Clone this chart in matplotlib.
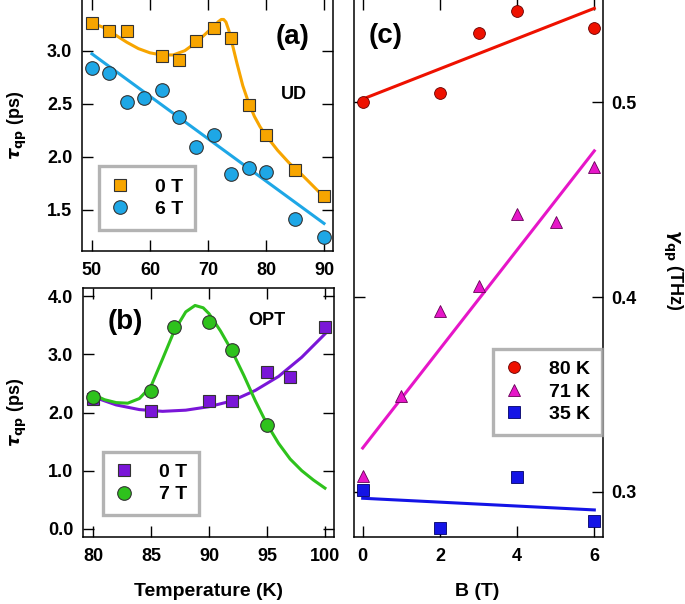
import matplotlib
matplotlib.use("Agg")
import matplotlib.pyplot as plt

plt.rcParams['font.family'] = ['Liberation Sans', 'DejaVu Sans']
plt.rcParams['font.weight'] = 'bold'
plt.rcParams['mathtext.fontset'] = 'dejavusans'

# panel (a) - UD
temp_a = [50, 53, 56, 62, 65, 68, 71, 74, 77, 80, 85, 90]
tau_0T_a = [3.26, 3.19, 3.19, 2.95, 2.915, 3.09, 3.21, 3.12, 2.49, 2.20, 1.87, 1.63]
temp_a6 = [50, 53, 56, 59, 62, 65, 68, 71, 74, 77, 80, 85, 90]
tau_6T_a = [2.84, 2.79, 2.52, 2.55, 2.63, 2.375, 2.09, 2.20, 1.84, 1.89, 1.86, 1.41, 1.24]
# fit curves
fit0_x_a = [50, 52, 54, 56, 58, 60, 62, 64, 66, 68, 70, 71, 71.8, 72.3, 72.7, 73.1, 73.6, 74.2, 75, 76, 77, 78, 79, 80, 82, 84, 86, 88, 90]
fit0_y_a = [3.26, 3.22, 3.15, 3.08, 3.02, 2.98, 2.96, 2.96, 3.00, 3.08, 3.18, 3.23, 3.275, 3.295, 3.295, 3.27, 3.19, 3.06, 2.88, 2.67, 2.51, 2.38, 2.28, 2.20, 2.06, 1.94, 1.84, 1.73, 1.62]
fit6_x_a = [50, 90]
fit6_y_a = [2.97, 1.37]

# panel (b) - OPT
temp_b0 = [80, 85, 90, 92, 95, 97, 100]
tau_0T_b = [2.23, 2.03, 2.19, 2.19, 2.70, 2.615, 3.47]
temp_b7 = [80, 85, 87, 90, 92, 95]
tau_7T_b = [2.26, 2.375, 3.47, 3.56, 3.07, 1.785]
fit0_x_b = [80, 82, 84, 86, 88, 90, 92, 94, 96, 98, 100]
fit0_y_b = [2.27, 2.13, 2.05, 2.02, 2.04, 2.10, 2.20, 2.38, 2.62, 2.95, 3.35]
fit7_x_b = [80, 81, 82, 83, 84, 85, 86, 87, 88, 88.8, 89.5, 90, 91, 92, 93, 94, 95, 96, 97, 98, 99, 100]
fit7_y_b = [2.31, 2.22, 2.17, 2.16, 2.24, 2.45, 2.92, 3.40, 3.73, 3.84, 3.80, 3.70, 3.40, 3.05, 2.64, 2.20, 1.80, 1.47, 1.20, 1.00, 0.84, 0.70]

# panel (c) - gamma vs B
b_80 = [0, 2, 3, 4, 6]
g_80 = [0.500, 0.5046, 0.5355, 0.5471, 0.5380]
b_71 = [0, 1, 2, 3, 4, 5, 6]
g_71 = [0.3080, 0.3494, 0.3928, 0.4057, 0.4426, 0.4386, 0.4666]
b_35 = [0, 2, 4, 6]
g_35 = [0.3007, 0.2813, 0.3076, 0.2852]
fit_b = [0, 6]
fit_80 = [0.5017, 0.5483]
fit_71 = [0.3225, 0.4751]
fit_35 = [0.2967, 0.2907]

orange = '#F7A500'
lblue = '#1EA7E6'
purple = '#7A16D8'
green = '#2EC21C'
red = '#EE1100'
magenta = '#E616C8'
blue = '#1414E6'

fig = plt.figure(figsize=(6.85, 6.04), dpi=100)
ax_a = fig.add_axes([82/685, 1-251/604, 251/685, 251/604 + 0.002])
ax_b = fig.add_axes([83/685, 1-537/604, 251/685, 249/604])
ax_c = fig.add_axes([354/685, 1-537/604, 249/685, 537/604 + 0.002])

def style(ax):
    ax.tick_params(direction='in', length=8, width=1, labelsize=13,
                   top=True, right=True, pad=8)
    for s in ax.spines.values():
        s.set_linewidth(1.1)
    for lab in ax.get_xticklabels() + ax.get_yticklabels():
        lab.set_fontweight('bold')

def legend(ax, anchor):
    leg = ax.legend(loc='lower left', bbox_to_anchor=anchor, borderaxespad=0,
                    fancybox=False, frameon=True, prop={'weight': 'bold', 'size': 14},
                    handlelength=1.0, handletextpad=1.3, borderpad=0.6,
                    labelspacing=0.25)
    leg.get_frame().set_edgecolor('#A0A0A0')
    leg.get_frame().set_linewidth(2.4)
    return leg

# (a)
ax_a.plot(fit0_x_a, fit0_y_a, color=orange, lw=2.2, zorder=2)
ax_a.plot(fit6_x_a, fit6_y_a, color=lblue, lw=2.2, zorder=2)
ax_a.plot(temp_a, tau_0T_a, 's', color=orange, mec='#333333', mew=0.8, ms=9.3, label='0 T', zorder=3)
ax_a.plot(temp_a6, tau_6T_a, 'o', color=lblue, mec='#333333', mew=0.8, ms=9.8, label='6 T', zorder=3)
ax_a.set_xlim(48.28, 91.55)
ax_a.set_ylim(1.11, 3.49)
ax_a.set_xticks([50, 60, 70, 80, 90])
ax_a.set_yticks([1.5, 2.0, 2.5, 3.0])
ax_a.set_yticklabels(['1.5', '2.0', '2.5', '3.0'])
style(ax_a)
ax_a.tick_params(pad=7, axis='y')
ax_a.text(0.84, 0.85, '(a)', transform=ax_a.transAxes, fontsize=20, fontweight='bold', ha='center', va='center')
ax_a.text(0.845, 0.62, 'UD', transform=ax_a.transAxes, fontsize=13, fontweight='bold', ha='center', va='center')
legend(ax_a, (0.068, 0.084))

# (b)
ax_b.plot(fit0_x_b, fit0_y_b, color=purple, lw=2.2, zorder=2)
ax_b.plot(fit7_x_b, fit7_y_b, color=green, lw=2.2, zorder=2)
ax_b.plot(temp_b0, tau_0T_b, 's', color=purple, mec='#333333', mew=0.8, ms=9.3, label='0 T', zorder=3)
ax_b.plot(temp_b7, tau_7T_b, 'o', color=green, mec='#333333', mew=0.8, ms=9.8, label='7 T', zorder=3)
ax_b.set_xlim(79.14, 100.78)
ax_b.set_ylim(-0.14, 4.14)
ax_b.set_xticks([80, 85, 90, 95, 100])
ax_b.set_yticks([0, 1, 2, 3, 4])
ax_b.set_yticklabels(['0.0', '1.0', '2.0', '3.0', '4.0'])
style(ax_b)
ax_b.tick_params(pad=7, axis='y')
ax_b.text(0.17, 0.863, '(b)', transform=ax_b.transAxes, fontsize=20, fontweight='bold', ha='center', va='center')
ax_b.text(0.733, 0.871, 'OPT', transform=ax_b.transAxes, fontsize=13, fontweight='bold', ha='center', va='center')
legend(ax_b, (0.08, 0.088))

# (c)
ax_c.plot(fit_b, fit_80, color=red, lw=2.2, zorder=2)
ax_c.plot(fit_b, fit_71, color=magenta, lw=2.2, zorder=2)
ax_c.plot(fit_b, fit_35, color=blue, lw=2.2, zorder=2)
ax_c.plot(b_80, g_80, 'o', color=red, mec='#660000', mew=0.6, ms=8.5, label='80 K', zorder=3)
ax_c.plot(b_71, g_71, '^', color=magenta, mec='#660055', mew=0.6, ms=8.5, label='71 K', zorder=3)
ax_c.plot(b_35, g_35, 's', color=blue, mec='#000066', mew=0.6, ms=8.5, label='35 K', zorder=3)
ax_c.set_xlim(-0.225, 6.225)
ax_c.set_ylim(0.2768, 0.5532)
ax_c.set_xticks([0, 2, 4, 6])
ax_c.set_yticks([0.3, 0.4, 0.5])
style(ax_c)
ax_c.yaxis.tick_right()
ax_c.tick_params(axis='y', left=True, right=True, labelleft=False, labelright=True, pad=6)
ax_c.text(0.125, 0.931, '(c)', transform=ax_c.transAxes, fontsize=20, fontweight='bold', ha='center', va='center')
legend(ax_c, (0.558, 0.19))

# axis labels
fig.text(17/685, 1-125/604, r'$\tau_{\mathbf{qp}}$ (ps)', rotation=90, fontsize=13, fontweight='bold', ha='center', va='center')
fig.text(17/685, 1-412/604, r'$\tau_{\mathbf{qp}}$ (ps)', rotation=90, fontsize=13, fontweight='bold', ha='center', va='center')
fig.text(673/685, 1-270/604, r'$\gamma_{\mathbf{qp}}$ (THz)', rotation=270, fontsize=13, fontweight='bold', ha='center', va='center')
fig.text(208/685, 1-592/604, 'Temperature (K)', fontsize=14, fontweight='bold', ha='center', va='center')
fig.text(477/685, 1-592/604, 'B (T)', fontsize=14, fontweight='bold', ha='center', va='center')

fig.savefig('out.png', dpi=100)
